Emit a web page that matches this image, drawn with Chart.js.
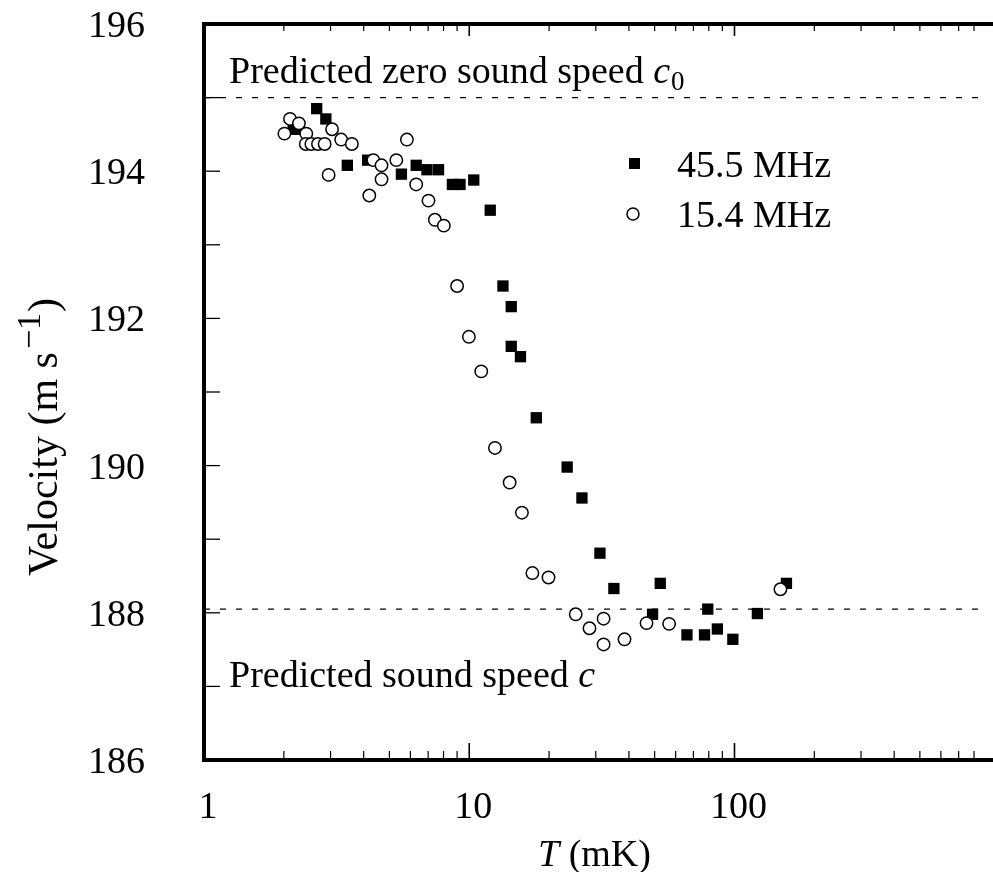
<!DOCTYPE html>
<html lang="en">
<head>
<meta charset="UTF-8">
<title>Sound velocity vs T</title>
<script src="https://cdn.jsdelivr.net/npm/chart.js@4.4.1/dist/chart.umd.min.js"></script>
<style>
body{margin:0;background:#fff;overflow:hidden}
</style>
</head>
<body>
<canvas id="myChart" width="993" height="872"></canvas>
<script>
// 45.5 MHz, filled squares  (T in mK, velocity in m/s)
var t_455 = [2.17, 2.28, 2.66, 2.88, 3.47, 4.14, 5.55, 6.31, 6.93, 7.66, 8.64, 9.23, 10.4, 12.0, 13.4, 14.4, 14.4, 15.6, 17.9, 23.4, 26.6, 31.1, 35.1, 49.1, 52.5, 66.2, 77.1, 79.3, 86.2, 98.6, 122, 157];
var v_455 = [194.57, 194.57, 194.85, 194.71, 194.08, 194.15, 193.96, 194.08, 194.02, 194.02, 193.82, 193.82, 193.88, 193.47, 192.44, 192.16, 191.62, 191.48, 190.65, 189.98, 189.56, 188.81, 188.33, 187.98, 188.40, 187.70, 187.70, 188.05, 187.78, 187.64, 187.99, 188.40];

// 15.4 MHz, open circles
var t_154 = [2.01, 2.11, 2.28, 2.43, 2.42, 2.54, 2.69, 2.85, 3.04, 2.95, 3.29, 3.61, 4.20, 4.35, 4.67, 4.67, 5.31, 5.82, 6.31, 7.02, 7.42, 8.02, 9.00, 9.97, 11.1, 12.5, 14.2, 15.8, 17.3, 19.9, 25.2, 28.4, 32.1, 32.1, 38.5, 46.6, 56.7, 149];
var v_154 = [194.51, 194.71, 194.65, 194.51, 194.37, 194.37, 194.37, 194.37, 194.57, 193.95, 194.43, 194.37, 193.67, 194.15, 194.08, 193.89, 194.15, 194.43, 193.82, 193.60, 193.34, 193.26, 192.44, 191.75, 191.28, 190.24, 189.77, 189.36, 188.54, 188.48, 187.98, 187.79, 187.92, 187.57, 187.64, 187.86, 187.85, 188.32];

// predicted speeds (dashed lines)
var c0_speed = 195.0;
var c_speed = 188.05;

var series_names = ["45.5 MHz", "15.4 MHz"];
var x_tick_labels = [1, 10, 100];
var y_tick_labels = [186, 188, 190, 192, 194, 196];
var x_min = 1, x_max = 880;
var y_min = 186, y_max = 196;

var FONT = '"Liberation Serif", "Times New Roman", serif';

var f_pts = function(p_x, p_y){
    var v_out = [];
    for(var i=0; i<p_x.length; i++){
        v_out.push({x:p_x[i], y:p_y[i]});
    }
    return v_out;
};

var f_isInt = function(p_v){ return Math.abs(p_v - Math.round(p_v)) < 1e-6; };

// inward ticks, tick labels, annotations, legend, axis titles
// (chart.js tick labels add layout padding, so labels are drawn here from the scales)
var f_deco = {
    id: 'deco',
    afterDraw: function(chart){
        var c = chart.ctx, a = chart.chartArea;
        var sx = chart.scales.x, sy = chart.scales.y;
        c.save();
        c.strokeStyle = '#000';
        c.fillStyle = '#000';

        // frame runs off the right edge of the picture
        c.lineWidth = 4;
        c.beginPath();
        c.moveTo(a.right - 20, a.top); c.lineTo(chart.width, a.top);
        c.moveTo(a.right - 20, a.bottom); c.lineTo(chart.width, a.bottom);
        c.stroke();

        // x ticks, bottom and top
        sx.ticks.forEach(function(tk){
            var lg = Math.floor(Math.log10(tk.value) + 1e-9);
            var m = tk.value / Math.pow(10, lg);
            if(!f_isInt(m)) return;
            var px = sx.getPixelForValue(tk.value);
            if(px <= a.left + 2 || px >= a.right - 1) return;
            var major = Math.abs(m - 1) < 1e-6;
            c.lineWidth = major ? 1.6 : 1.2;
            c.beginPath();
            c.moveTo(px, a.bottom); c.lineTo(px, a.bottom - (major ? 17 : 9));
            c.moveTo(px, a.top); c.lineTo(px, a.top + (major ? 12 : 7));
            c.stroke();
        });
        // y ticks, left
        sy.ticks.forEach(function(tk){
            if(tk.value <= y_min || tk.value >= y_max) return;
            var py = sy.getPixelForValue(tk.value);
            c.lineWidth = 1.3;
            c.beginPath();
            c.moveTo(a.left, py); c.lineTo(a.left + 16, py);
            c.stroke();
        });

        // tick labels
        c.font = '38px ' + FONT;
        c.textBaseline = 'alphabetic';
        c.textAlign = 'center';
        x_tick_labels.forEach(function(v){
            c.fillText(String(v), sx.getPixelForValue(v) + 4, 818);
        });
        c.textAlign = 'right';
        y_tick_labels.forEach(function(v){
            c.fillText(String(v), 145, sy.getPixelForValue(v) + 13);
        });

        // annotations
        c.textAlign = 'left';
        var v_x = 229;
        var s1 = 'Predicted zero sound speed ';
        c.fillText(s1, v_x, 83);
        var w1 = c.measureText(s1).width;
        c.font = 'italic 38px ' + FONT;
        c.fillText('c', v_x + w1, 83);
        var wc = c.measureText('c').width;
        c.font = '27px ' + FONT;
        c.fillText('0', v_x + w1 + wc + 1, 90);

        c.font = '38px ' + FONT;
        var s2 = 'Predicted sound speed ';
        c.fillText(s2, v_x, 687);
        var w2 = c.measureText(s2).width;
        c.font = 'italic 38px ' + FONT;
        c.fillText('c', v_x + w2, 687);

        // legend
        c.font = '38px ' + FONT;
        c.fillRect(629, 158, 11, 11);
        c.fillText(series_names[0], 677, 177);
        c.beginPath();
        c.lineWidth = 1.5;
        c.fillStyle = '#fff';
        c.arc(633, 214, 6, 0, Math.PI * 2);
        c.fill(); c.stroke();
        c.fillStyle = '#000';
        c.fillText(series_names[1], 677, 227);

        // x title: T (mK)
        c.font = 'italic 38px ' + FONT;
        var wT = c.measureText('T').width;
        c.font = '38px ' + FONT;
        var wR = c.measureText(' (mK)').width;
        var x0 = (a.left + a.right) / 2 - (wT + wR) / 2;
        c.font = 'italic 38px ' + FONT;
        c.fillText('T', x0, 866);
        c.font = '38px ' + FONT;
        c.fillText(' (mK)', x0 + wT, 866);

        // y title: Velocity (m s^-1)
        c.translate(57, 437);
        c.rotate(-Math.PI / 2);
        c.font = '42px ' + FONT;
        var p1 = 'Velocity (m s', p3 = ')';
        var wp1 = c.measureText(p1).width, wp3 = c.measureText(p3).width;
        c.font = '34px ' + FONT;
        var p2 = '\u22121';
        var wp2 = c.measureText(p2).width;
        var tot = wp1 + wp2 + wp3 + 4;
        var sx0 = -tot / 2;
        c.font = '42px ' + FONT;
        c.fillText(p1, sx0, 0);
        c.font = '34px ' + FONT;
        c.fillText(p2, sx0 + wp1 + 3, -17);
        c.font = '42px ' + FONT;
        c.fillText(p3, sx0 + wp1 + 4 + wp2, 0);

        c.restore();
    }
};

Chart.defaults.font.family = FONT;
Chart.defaults.font.size = 38;
Chart.defaults.color = '#000';

var ctx = document.getElementById('myChart').getContext('2d');
var myChart = new Chart(ctx, {
    type: 'scatter',
    data: {
        datasets: [
            {
                label: series_names[1],
                data: f_pts(t_154, v_154),
                pointStyle: 'circle',
                pointRadius: 6.2,
                borderWidth: 1.5,
                borderColor: '#000',
                backgroundColor: '#fff',
                order: 0
            },
            {
                label: series_names[0],
                data: f_pts(t_455, v_455),
                pointStyle: 'rect',
                pointRadius: 8,
                borderWidth: 0,
                borderColor: '#000',
                backgroundColor: '#000',
                order: 1
            },
            {
                type: 'line',
                label: 'c0',
                data: [{x:x_min, y:c0_speed}, {x:x_max, y:c0_speed}],
                borderColor: '#000',
                borderWidth: 1.3,
                borderDash: [6, 10],
                pointRadius: 0,
                fill: false,
                order: 2
            },
            {
                type: 'line',
                label: 'c',
                data: [{x:x_min, y:c_speed}, {x:x_max, y:c_speed}],
                borderColor: '#000',
                borderWidth: 1.3,
                borderDash: [6, 10],
                pointRadius: 0,
                fill: false,
                order: 2
            }
        ]
    },
    options: {
        responsive: false,
        animation: false,
        devicePixelRatio: 1,
        layout: { padding: 0 },
        plugins: {
            legend: { display: false },
            tooltip: { enabled: false }
        },
        scales: {
            x: {
                type: 'logarithmic',
                position: 'bottom',
                min: x_min,
                max: x_max,
                grid: { display: false },
                border: { display: true, width: 4, color: '#000' },
                ticks: { display: false, autoSkip: false },
                afterFit: function(s){ s.height = 112; }
            },
            xTop: {
                type: 'logarithmic',
                position: 'top',
                min: x_min,
                max: x_max,
                grid: { display: false },
                border: { display: true, width: 4, color: '#000' },
                ticks: { display: false },
                afterFit: function(s){ s.height = 24; }
            },
            y: {
                min: y_min,
                max: y_max,
                grid: { display: false },
                border: { display: true, width: 4, color: '#000' },
                ticks: { display: false, stepSize: 1 },
                afterFit: function(s){ s.width = 204; }
            }
        }
    },
    plugins: [f_deco]
});
</script>
</body>
</html>
